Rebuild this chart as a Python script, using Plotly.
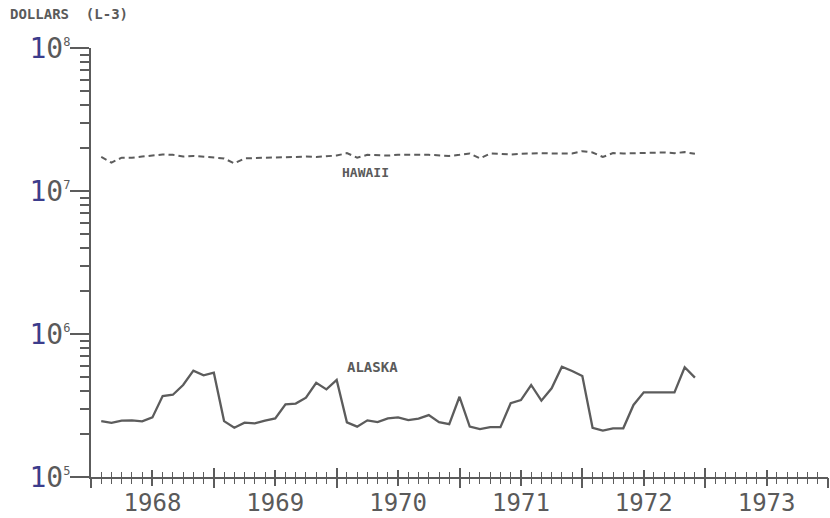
import plotly.graph_objects as go

# ---- data (monthly, 1968-1972) ----
months = list(range(1, 60))  # month index counted from Jan 1968
alaska = [2.46e5, 2.39e5, 2.48e5, 2.49e5, 2.45e5, 2.61e5, 3.68e5, 3.76e5, 4.40e5, 5.54e5,
          5.14e5, 5.36e5, 2.46e5, 2.21e5, 2.40e5, 2.37e5, 2.48e5, 2.57e5, 3.22e5, 3.26e5,
          3.59e5, 4.56e5, 4.10e5, 4.77e5, 2.41e5, 2.25e5, 2.49e5, 2.42e5, 2.57e5, 2.61e5,
          2.50e5, 2.56e5, 2.71e5, 2.42e5, 2.34e5, 3.64e5, 2.25e5, 2.16e5, 2.23e5, 2.23e5,
          3.28e5, 3.45e5, 4.40e5, 3.42e5, 4.17e5, 5.91e5, 5.51e5, 5.09e5, 2.21e5, 2.11e5,
          2.19e5, 2.19e5, 3.19e5, 3.91e5, 3.91e5, 3.91e5, 3.91e5, 5.85e5, 4.95e5]
hawaii = [17.3, 15.8, 17.1, 17.1, 17.4, 17.6, 18.0, 17.9, 17.4, 17.6,
          17.4, 17.3, 16.9, 15.6, 16.9, 17.0, 17.1, 17.1, 17.3, 17.3,
          17.4, 17.3, 17.4, 17.7, 18.4, 17.1, 17.9, 17.7, 17.7, 17.9,
          18.0, 17.9, 17.9, 17.7, 17.6, 17.9, 18.3, 16.9, 18.3, 18.2,
          18.0, 18.2, 18.4, 18.4, 18.3, 18.3, 18.3, 19.0, 18.6, 17.3,
          18.4, 18.3, 18.4, 18.3, 18.6, 18.6, 18.4, 18.7, 18.2]  # millions of dollars
years = [1968, 1969, 1970, 1971, 1972, 1973]
y_exponents = [5, 6, 7, 8]

x_vals = [1968 + m / 12 for m in months]
hawaii_dollars = [v * 1e6 for v in hawaii]

LINE = "#5c5c5c"
TXT = "#5a5a5a"
MONO = "DejaVu Sans Mono"

fig = go.Figure()
fig.add_trace(go.Scatter(x=x_vals, y=hawaii_dollars, mode="lines", name="HAWAII",
                         line=dict(color=LINE, width=2, dash="6px,4px")))
fig.add_trace(go.Scatter(x=x_vals, y=alaska, mode="lines", name="ALASKA",
                         line=dict(color=LINE, width=2.3)))
# invisible traces to materialise overlay axes
for xa in ["x2", "x3", "x4"]:
    fig.add_trace(go.Scatter(x=[None], y=[None], xaxis=xa, yaxis="y", showlegend=False,
                             hoverinfo="skip"))
fig.add_trace(go.Scatter(x=[None], y=[None], xaxis="x", yaxis="y2", showlegend=False,
                         hoverinfo="skip"))

mid_years = [y + 0.5 for y in years]
boundaries = list(range(1968, 1975))
month_ticks = [1968 + k / 12 for k in range(72) if k % 6 != 0]
xr = [1968, 1974]

base_x = dict(range=xr, showgrid=False, zeroline=False, automargin=False)
fig.update_layout(
    xaxis=dict(**base_x, showline=True, linecolor=LINE, linewidth=2,
               tickmode="array", tickvals=mid_years, ticktext=[str(y) for y in years],
               ticks="outside", ticklen=7, tickwidth=1.5, tickcolor=LINE,
               ticklabelstandoff=-4,
               tickfont=dict(family=MONO, size=24, color=TXT),
               minor=dict(tickmode="array", tickvals=month_ticks, ticks="outside",
                          ticklen=5, tickwidth=1.3, tickcolor=LINE)),
    xaxis2=dict(**base_x, overlaying="x", anchor="y", side="bottom", showline=False,
                tickmode="array", tickvals=mid_years, showticklabels=False,
                ticks="inside", ticklen=7, tickwidth=1.5, tickcolor=LINE,
                minor=dict(tickmode="array", tickvals=month_ticks, ticks="inside",
                           ticklen=5, tickwidth=1.3, tickcolor=LINE)),
    xaxis3=dict(**base_x, overlaying="x", anchor="y", side="bottom", showline=False,
                tickmode="array", tickvals=boundaries, showticklabels=False,
                ticks="outside", ticklen=10, tickwidth=1.8, tickcolor=LINE),
    xaxis4=dict(**base_x, overlaying="x", anchor="y", side="bottom", showline=False,
                tickmode="array", tickvals=boundaries, showticklabels=False,
                ticks="inside", ticklen=9, tickwidth=1.8, tickcolor=LINE),
    yaxis=dict(type="log", range=[5, 8], showgrid=False, zeroline=False, automargin=False,
               showline=True, linecolor=LINE, linewidth=2,
               tickmode="array", tickvals=[10 ** e for e in y_exponents],
               ticktext=["<span style='color:#3c3c8c'>1</span>0"
                         "<sup><span style='font-size:12px'>%d</span></sup>" % e
                         for e in y_exponents],
               ticks="outside", ticklen=19, tickwidth=1.8, tickcolor=LINE,
               tickfont=dict(family=MONO, size=28, color=TXT), ticklabelstandoff=-6),
    yaxis2=dict(type="log", range=[5, 8], overlaying="y", anchor="x", side="left",
                showgrid=False, zeroline=False, showline=False, showticklabels=False,
                automargin=False, tickmode="array",
                tickvals=[m * 10 ** e for e in [5, 6, 7] for m in range(2, 10)],
                ticks="outside", ticklen=10, tickwidth=1.5, tickcolor=LINE),
    width=830, height=518,
    margin=dict(l=91, r=2, t=48, b=41),
    paper_bgcolor="white", plot_bgcolor="white",
    showlegend=False,
    annotations=[
        dict(text="<b>DOLLARS  (L-3)</b>", xref="paper", yref="paper",
             x=(8 - 91) / 737, y=(477 - 14) / 429, xanchor="left", yanchor="middle",
             showarrow=False, font=dict(family=MONO, size=14, color=TXT)),
        dict(text="<b>HAWAII</b>", xref="paper", yref="paper",
             x=(365 - 91) / 737, y=(477 - 172) / 429, xanchor="center", yanchor="middle",
             showarrow=False, font=dict(family=MONO, size=13, color=TXT)),
        dict(text="<b>ALASKA</b>", xref="paper", yref="paper",
             x=(372 - 91) / 737, y=(477 - 367) / 429, xanchor="center", yanchor="middle",
             showarrow=False, font=dict(family=MONO, size=14, color=TXT)),
    ],
)

fig.write_html("out.html", config={"displayModeBar": False},
               post_script="document.body.style.margin='0px';")
